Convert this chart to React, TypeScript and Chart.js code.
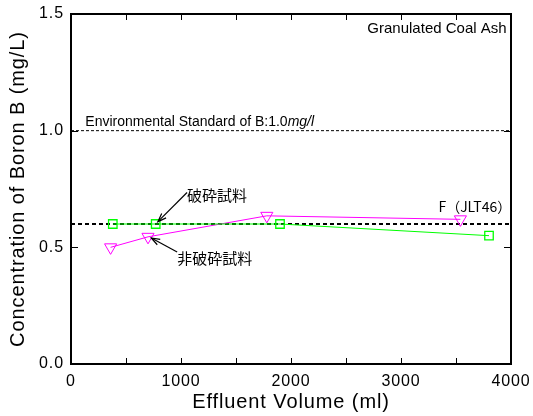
import React, { useEffect, useRef } from "react";
import { Chart, registerables } from "chart.js";

Chart.register(...registerables);

const crushedX = [380, 770, 1900, 3800];
const crushedY = [0.6, 0.6, 0.6, 0.55];
const uncrushedX = [360, 700, 1780, 3540];
const uncrushedY = [0.5, 0.545, 0.635, 0.62];
const referenceLevel = 0.6;
const standardLevel = 1.0;
const xTicks = [0, 1000, 2000, 3000, 4000];
const yTicks = [0, 0.5, 1.0, 1.5];

const FONT = "'Liberation Sans', Arial, sans-serif";
const CJK = "'Noto Sans CJK JP', 'Liberation Sans', sans-serif";

const spacingPlugin = {
  id: "spacing",
  beforeDraw(chart: any) {
    chart.ctx.letterSpacing = "0.9px";
  },
};

const decorPlugin = {
  id: "decor",
  afterDatasetsDraw(chart: any) {
    const { ctx, chartArea: a, scales } = chart;
    const xs = scales.x;
    const ys = scales.y;
    const px = (v: number) => xs.getPixelForValue(v);
    const py = (v: number) => ys.getPixelForValue(v);
    ctx.save();
    ctx.letterSpacing = "0px";
    // frame
    ctx.strokeStyle = "#000";
    ctx.lineWidth = 2;
    ctx.strokeRect(a.left, a.top, a.right - a.left, a.bottom - a.top);
    // inner ticks
    ctx.lineWidth = 1;
    ctx.beginPath();
    for (let v = 500; v < 4000; v += 500) {
      const x = Math.round(px(v)) + 0.5;
      ctx.moveTo(x, a.bottom);
      ctx.lineTo(x, a.bottom - 6);
      ctx.moveTo(x, a.top);
      ctx.lineTo(x, a.top + 6);
    }
    for (const v of [0.5, 1.0]) {
      const y = Math.round(py(v)) + 0.5;
      ctx.moveTo(a.left, y);
      ctx.lineTo(a.left + 7, y);
      ctx.moveTo(a.right, y);
      ctx.lineTo(a.right - 7, y);
    }
    ctx.stroke();

    // texts
    ctx.fillStyle = "#000";
    ctx.textBaseline = "middle";
    ctx.textAlign = "right";
    ctx.font = `15px ${FONT}`;
    ctx.fillText("Granulated Coal Ash", px(3960), py(1.435));

    ctx.textAlign = "left";
    const base = "Environmental Standard of B:1.0";
    ctx.font = `14px ${FONT}`;
    const sx = px(130);
    const sy = py(1.035);
    ctx.fillText(base, sx, sy);
    const w = ctx.measureText(base).width;
    ctx.font = `italic 14px ${FONT}`;
    ctx.fillText("mg/l", sx + w, sy);

    ctx.font = `15px ${CJK}`;
    ctx.fillText("破砕試料", px(1055), py(0.725));
    ctx.fillText("非破砕試料", px(965), py(0.455));
    ctx.font = `14px ${CJK}`;
    ctx.fillText("F（JLT46）", px(3340), py(0.675));

    // arrows
    const arrow = (x1: number, y1: number, x2: number, y2: number) => {
      const ax = px(x1), ay = py(y1), bx = px(x2), by = py(y2);
      ctx.strokeStyle = "#000";
      ctx.lineWidth = 1.2;
      ctx.beginPath();
      ctx.moveTo(ax, ay);
      ctx.lineTo(bx, by);
      ctx.stroke();
      const ang = Math.atan2(by - ay, bx - ax);
      const L = 9;
      ctx.beginPath();
      ctx.moveTo(bx - L * Math.cos(ang - 0.35), by - L * Math.sin(ang - 0.35));
      ctx.lineTo(bx, by);
      ctx.lineTo(bx - L * Math.cos(ang + 0.35), by - L * Math.sin(ang + 0.35));
      ctx.stroke();
    };
    arrow(1055, 0.735, 790, 0.61);
    arrow(965, 0.48, 730, 0.54);
    ctx.restore();
  },
};

export default function App() {
  const ref = useRef<HTMLCanvasElement | null>(null);
  useEffect(() => {
    if (!ref.current) return;
    const line = (y: number) => [
      { x: 0, y },
      { x: 4000, y },
    ];
    const chart = new Chart(ref.current, {
      type: "scatter",
      data: {
        datasets: [
          {
            label: "standard",
            data: line(standardLevel),
            showLine: true,
            borderColor: "#000",
            borderWidth: 1,
            borderDash: [3, 2],
            pointRadius: 0,
          },
          {
            label: "破砕試料",
            data: crushedX.map((x, i) => ({ x, y: crushedY[i] })),
            showLine: true,
            borderColor: "#00ff00",
            backgroundColor: "rgba(0,0,0,0)",
            borderWidth: 1,
            pointStyle: "rect",
            pointRadius: 6,
            pointBorderWidth: 1.3,
            pointBorderColor: "#00ff00",
          },
          {
            label: "非破砕試料",
            data: uncrushedX.map((x, i) => ({ x, y: uncrushedY[i] })),
            showLine: true,
            borderColor: "#ff00ff",
            backgroundColor: "rgba(0,0,0,0)",
            borderWidth: 1,
            pointStyle: "triangle",
            rotation: 180,
            pointRadius: 7,
            pointBorderWidth: 1,
            pointBorderColor: "#ff00ff",
          },
          {
            label: "F",
            data: line(referenceLevel),
            showLine: true,
            borderColor: "#000",
            borderWidth: 2,
            borderDash: [4, 3],
            pointRadius: 0,
          },
        ],
      },
      options: {
        animation: false,
        responsive: false,
        maintainAspectRatio: false,
        layout: { padding: { top: 14, right: 22, left: 0, bottom: 0 } },
        plugins: { legend: { display: false }, tooltip: { enabled: false } },
        scales: {
          x: {
            type: "linear",
            min: 0,
            max: 4000,
            grid: { display: false, drawTicks: false },
            border: { display: false },
            afterBuildTicks: (s: any) => {
              s.ticks = xTicks.map((v) => ({ value: v }));
            },
            afterFit: (s: any) => {
              s.height = 52;
              s.paddingLeft = 0;
              s.paddingRight = 0;
            },
            ticks: {
              color: "#000",
              font: { family: FONT, size: 16 },
              padding: 8,
              maxRotation: 0,
              callback: (v: any) => String(v),
            },
            title: {
              display: true,
              text: "Effluent Volume (ml)",
              color: "#000",
              font: { family: FONT, size: 20 },
              padding: { top: 1.5, bottom: 1.5 },
            },
          },
          y: {
            type: "linear",
            min: 0,
            max: 1.5,
            grid: { display: false, drawTicks: false },
            border: { display: false },
            afterBuildTicks: (s: any) => {
              s.ticks = yTicks.map((v) => ({ value: v }));
            },
            afterFit: (s: any) => {
              s.width = 71;
              s.paddingTop = 0;
              s.paddingBottom = 0;
            },
            ticks: {
              color: "#000",
              font: { family: FONT, size: 16 },
              padding: 7,
              callback: (v: any) => Number(v).toFixed(1),
            },
            title: {
              display: true,
              text: "Concentration of Boron B (mg/L)",
              color: "#000",
              font: { family: FONT, size: 20 },
              padding: { top: 6, bottom: 6 },
            },
          },
        },
      },
      plugins: [spacingPlugin, decorPlugin],
    });
    return () => chart.destroy();
  }, []);
  return (
    <div style={{ position: "fixed", left: 0, top: 0, width: 533, height: 416, background: "#fff" }}>
      <canvas ref={ref} width={533} height={416} style={{ width: 533, height: 416 }} />
    </div>
  );
}
